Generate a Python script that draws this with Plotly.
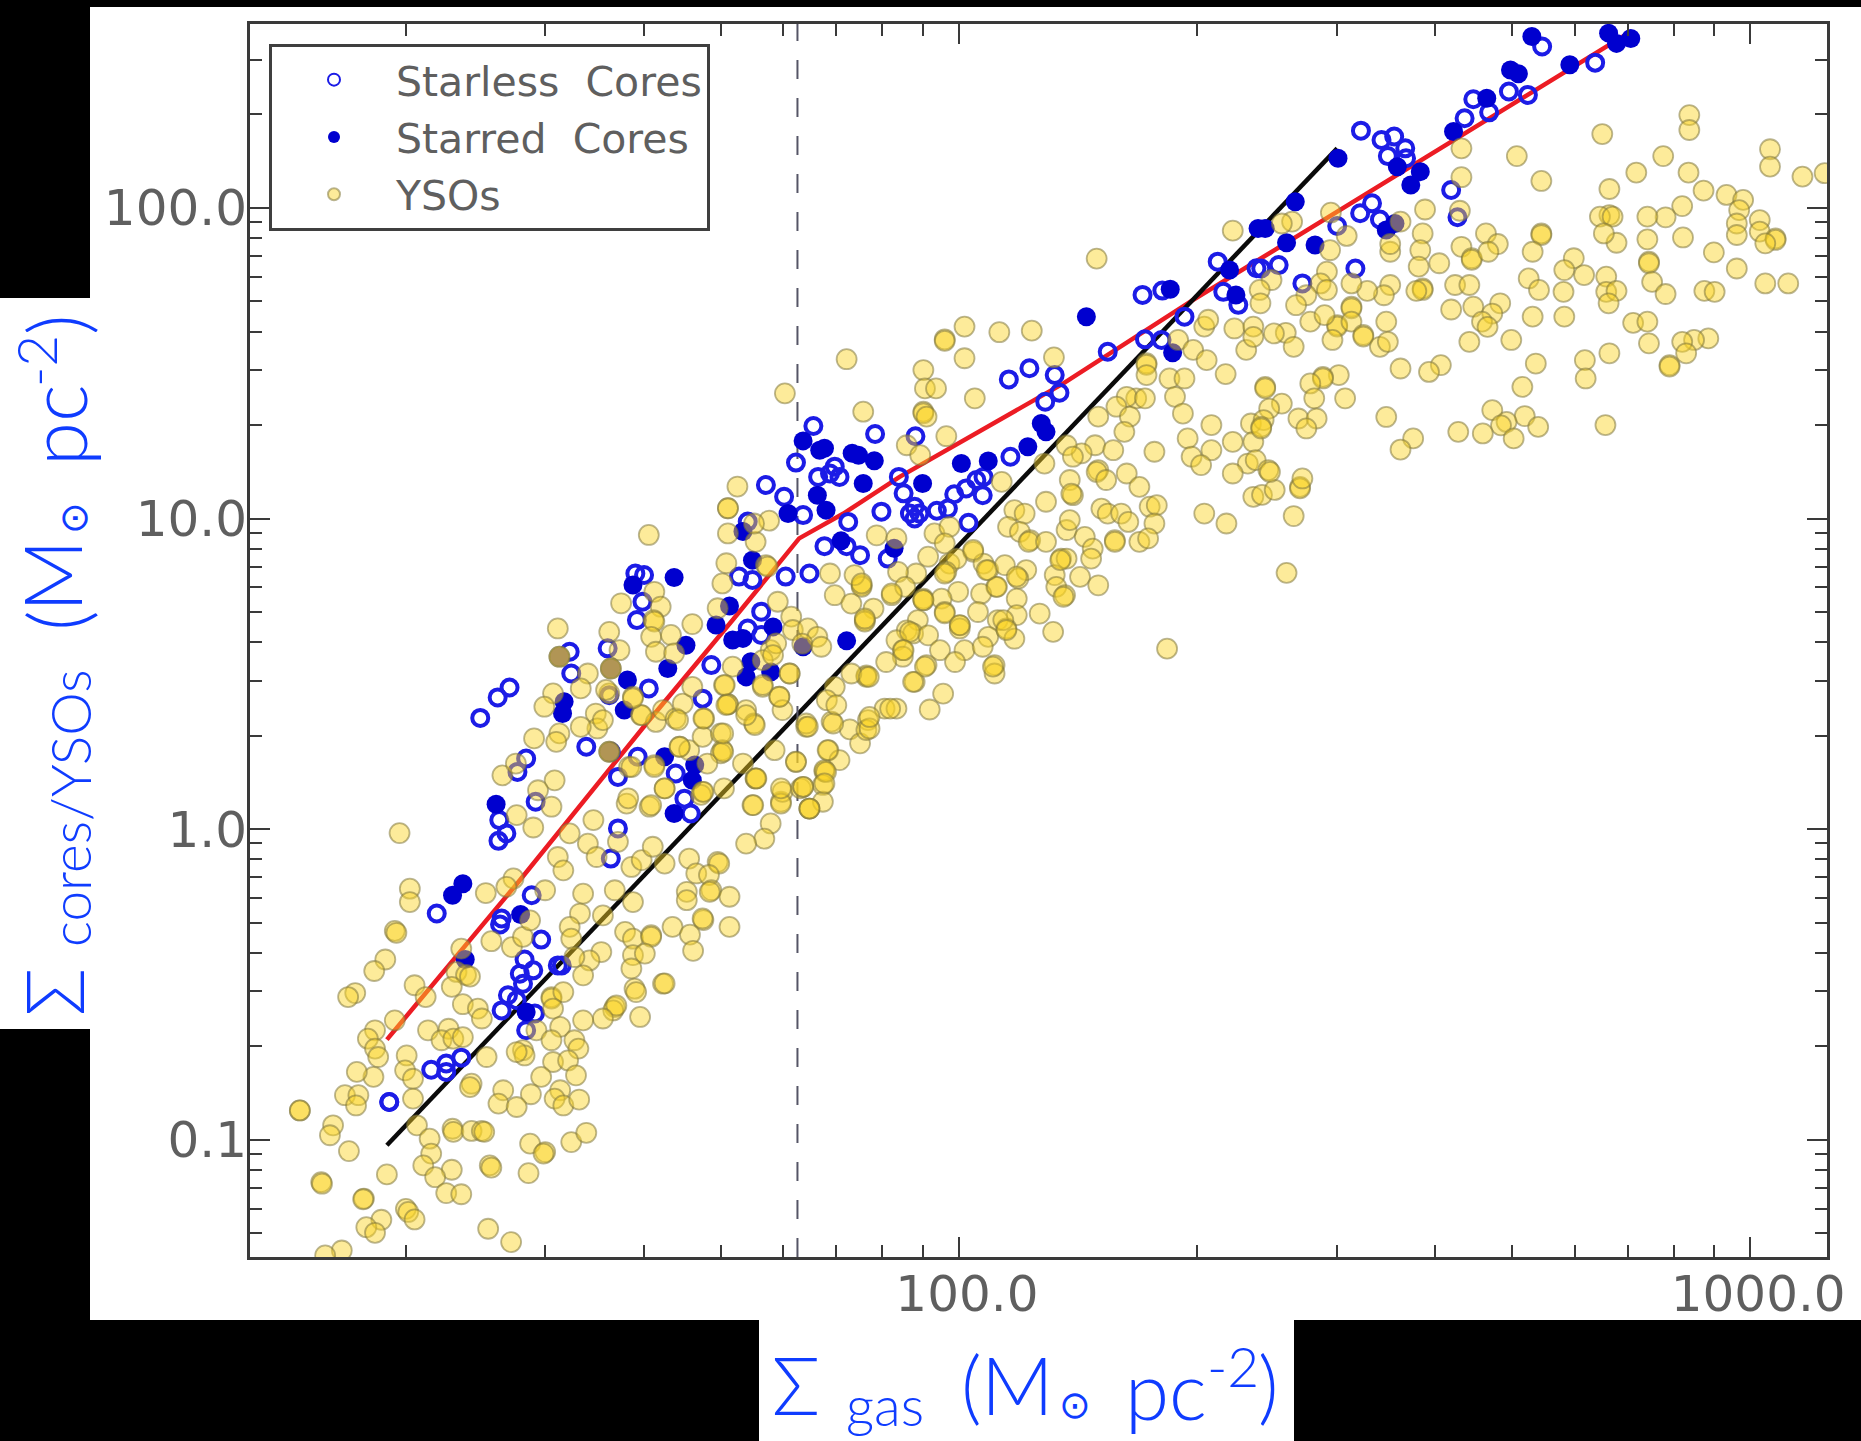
import numpy as np
import plotly.graph_objects as go

W, H = 1861, 1441

yso_log_gas = [
1.293,1.462,1.485,1.441,1.538,1.580,1.609,1.508,1.531,1.569,1.493,1.500,1.542,1.586,1.599,1.613,1.628,
1.306,1.306,1.402,1.437,1.428,1.477,1.525,1.565,1.588,1.550,1.521,1.508,1.510,1.287,1.289,1.409,1.435,1.449,1.458,1.371,1.275,1.261,
1.578,1.588,1.611,1.611,1.588,1.603,1.586,1.548,1.533,1.525,1.514,1.626,1.590,1.592,1.365,1.377,1.382,1.312,1.326,1.359,1.237,1.228,
1.373,1.392,1.397,1.485,1.485,1.500,1.487,1.565,1.563,1.567,1.550,1.525,1.597,1.287,1.262,1.253,1.262,1.266,1.260,1.239,
1.329,1.355,1.346,1.361,1.373,1.302,1.300,1.310,1.403,1.449,1.451,1.441,1.466,1.496,1.485,1.514,1.519,1.487,1.506,1.472,1.516,
1.384,1.382,1.424,1.459,1.418,1.441,1.496,1.489,1.500,1.520,1.224,1.241,1.238,1.310,1.167,1.167,1.209,1.205,1.229,
1.315,1.360,1.361,1.384,1.397,1.400,1.331,1.333,1.323,1.359,1.338,1.352,1.371,1.407,1.409,1.458,1.477,1.475,1.510,1.529,1.456,1.277,
1.194,1.195,1.248,1.247,1.301,1.304,1.312,1.270,1.251,1.262,1.405,1.434,1.220,1.199,
1.608,1.720,1.708,1.708,1.760,1.708,1.743,1.706,1.701,1.756,1.758,1.741,1.573,1.615,1.623,1.614,1.615,1.611,1.617,1.636,1.640,1.663,1.695,
1.771,1.788,1.790,1.809,1.821,1.493,1.558,1.571,1.495,1.495,1.560,1.560,1.531,1.522,1.487,1.476,1.558,1.588,1.541,1.543,1.522,1.598,1.617,1.626,
1.642,1.651,1.663,1.678,1.703,1.708,1.708,1.714,1.731,1.741,1.752,1.773,1.777,1.807,1.762,1.786,1.769,1.802,1.752,1.463,1.495,1.491,
1.647,1.659,1.676,1.699,1.701,1.699,1.682,1.558,1.558,1.583,1.615,1.743,1.743,1.767,1.727,1.794,1.423,1.440,1.489,1.468,
1.628,1.676,1.674,1.703,1.739,1.775,1.777,1.800,1.811,1.762,1.754,1.731,1.659,1.695,1.697,1.668,1.684,
1.839,1.862,1.875,1.885,1.883,1.887,1.835,1.849,1.830,1.830,1.828,1.828,1.811,1.803,1.807,
1.687,1.685,1.656,1.656,1.710,1.677,1.676,1.638,1.710,1.660,1.664,1.628,
1.858,1.780,1.879,1.982,1.982,2.007,2.051,2.092,2.007,1.955,1.957,1.971,2.020,1.955,1.955,1.959,1.984,1.934,1.951,2.120,2.237,2.237,2.237,
2.266,2.285,2.277,2.296,2.313,2.310,2.315,2.348,2.372,2.363,2.372,2.337,2.273,2.283,2.319,2.224,2.212,2.235,2.176,2.199,2.216,2.209,2.172,2.195,2.155,2.136,2.144,
2.247,2.289,2.294,2.319,2.306,2.346,2.369,2.372,2.365,2.346,2.375,2.108,2.176,2.174,2.186,2.212,2.228,2.140,2.144,2.142,2.110,2.054,2.241,2.250,2.180,2.188,2.205,2.214,2.247,2.310,2.338,
2.070,2.083,2.062,2.077,2.090,2.088,2.110,2.136,2.140,2.159,2.169,2.197,2.197,2.228,2.239,2.129,2.136,2.167,2.121,2.153,2.176,2.123,2.134,2.102,2.119,2.263,
1.969,1.988,1.982,1.896,1.921,1.961,2.018,1.988,1.997,2.031,2.037,2.058,2.085,2.075,2.047,2.028,1.999,1.984,1.946,1.923,1.877,1.877,1.868,1.843,1.837,1.915,1.932,1.955,1.955,1.978,2.073,
1.864,1.892,1.881,1.881,2.024,1.982,2.073,2.049,2.001,2.001,2.060,1.948,1.934,1.942,1.961,1.921,2.070,2.037,1.976,2.007,2.030,1.929,1.929,1.908,1.959,1.995,2.045,2.045,
1.883,1.883,1.864,1.944,1.843,1.833,1.845,1.980,1.906,1.921,1.887,1.963,2.372,2.174,2.346,
2.383,2.399,2.391,2.393,2.431,2.431,2.423,2.414,
2.923,2.923,2.813,2.705,2.635,2.890,2.635,2.736,2.922,2.856,2.822,2.941,3.025,3.025,3.066,3.094,2.970,2.991,2.986,2.914,2.893,2.870,2.822,2.810,2.826,2.589,2.633,2.470,2.421,2.408,
2.983,2.983,3.012,3.012,3.032,3.032,3.019,2.915,2.870,2.831,2.815,2.736,2.736,2.725,2.666,2.681,2.635,2.648,2.648,2.669,2.586,2.583,2.581,2.607,2.558,2.490,2.469,2.545,2.545,
2.954,2.983,2.872,2.872,2.777,2.765,2.790,2.818,2.720,2.733,2.764,2.876,2.893,3.019,3.048,2.942,2.955,2.818,2.831,2.821,2.627,2.645,2.586,2.586,2.578,2.545,2.537,2.516,
2.465,2.457,2.439,2.465,2.395,2.380,2.496,2.381,2.496,2.496,2.426,2.622,2.650,2.684,2.674,2.725,2.765,2.661,2.668,2.540,2.478,2.478,2.444,2.462,2.496,2.511,2.511,2.413,2.398,
2.423,2.472,2.532,2.542,2.645,2.698,2.852,2.870,2.872,2.947,2.929,2.914,2.919,2.898,2.898,2.822,2.791,2.792,2.729,2.712,2.558,2.609,2.594,2.480,2.460,2.460,2.444,2.488,2.449,
2.387,2.387,2.408,2.392,2.429,2.452,2.439,2.385,2.382,2.382,2.540,2.674,2.715,2.692,2.685,2.732,2.631,2.662,2.701,2.817,2.574,2.558,2.434,
]
yso_log_sigma = [
-0.013,0.005,0.072,0.045,0.029,0.082,0.072,-0.014,-0.047,-0.041,-0.090,-0.133,-0.090,-0.122,-0.100,-0.057,-0.111,
-0.192,-0.235,-0.206,-0.159,-0.186,-0.197,-0.208,-0.197,-0.235,-0.278,-0.272,-0.315,-0.353,-0.328,-0.334,-0.361,-0.380,-0.347,-0.294,-0.385,-0.420,-0.457,
-0.331,-0.353,-0.342,-0.347,-0.406,-0.401,-0.449,-0.396,-0.423,-0.471,-0.412,-0.498,-0.514,-0.525,-0.460,-0.470,-0.475,-0.503,-0.541,-0.508,-0.528,-0.541,
-0.564,-0.578,-0.610,-0.541,-0.546,-0.525,-0.578,-0.573,-0.584,-0.568,-0.610,-0.616,-0.605,-0.616,-0.648,-0.675,-0.707,-0.734,-0.798,-0.782,
-0.648,-0.643,-0.680,-0.675,-0.670,-0.729,-0.777,-0.804,-0.734,-0.712,-0.729,-0.718,-0.648,-0.637,-0.680,-0.680,-0.707,-0.750,-0.745,-0.798,-0.793,
-0.820,-0.831,-0.841,-0.854,-0.884,-0.895,-0.841,-0.868,-0.890,-0.871,-0.857,-0.857,-0.890,-0.868,-0.906,-0.906,-0.954,-0.986,-1.037,
-0.954,-0.965,-0.975,-0.972,-0.972,-0.975,-0.997,-1.045,-1.083,-1.097,-1.121,-1.172,-1.176,-1.083,-1.090,-1.013,-1.040,-1.045,-1.008,-0.978,-1.108,-1.112,
-1.137,-1.142,-1.190,-1.192,-1.223,-1.233,-1.257,-1.258,-1.282,-1.300,-1.287,-1.330,-1.357,-1.373,
0.947,1.103,1.033,1.033,0.993,0.952,0.925,0.856,0.791,0.850,0.845,0.984,0.727,0.764,0.716,0.673,0.668,0.619,0.571,0.625,0.566,0.660,0.711,
0.732,0.684,0.641,0.646,0.619,0.646,0.635,0.576,0.555,0.555,0.517,0.517,0.501,0.453,0.437,0.394,0.437,0.426,0.372,0.324,0.329,0.367,0.345,0.383,
0.356,0.404,0.458,0.356,0.463,0.402,0.402,0.523,0.383,0.340,0.458,0.426,0.383,0.329,0.576,0.501,0.598,0.597,0.544,0.292,0.308,0.281,
0.265,0.254,0.297,0.308,0.254,0.244,0.211,0.249,0.249,0.200,0.206,0.163,0.163,0.254,0.211,0.216,0.173,0.211,0.157,0.125,
0.131,0.120,0.110,0.131,0.077,0.088,0.120,0.131,0.066,0.018,-0.031,-0.047,-0.095,-0.106,-0.111,-0.143,-0.148,
0.346,0.321,0.276,0.351,0.319,0.324,0.254,0.222,0.185,0.190,0.142,0.088,0.066,0.136,0.340,
-0.197,-0.202,-0.202,-0.229,-0.218,-0.293,-0.288,-0.315,-0.315,-0.340,-0.392,-0.497,
1.513,1.403,1.344,1.577,1.572,1.618,1.600,1.605,1.516,1.478,1.419,1.419,1.387,1.344,1.339,1.328,1.265,1.236,1.204,1.519,1.500,1.495,1.462,
1.451,1.451,1.575,1.543,1.510,1.618,1.640,1.612,1.618,1.543,1.585,1.465,1.392,1.338,1.301,1.387,1.392,1.387,1.328,1.360,1.328,1.279,1.236,1.220,1.210,1.236,1.199,
1.215,1.258,1.199,1.220,1.172,1.247,1.306,1.247,1.177,1.145,1.188,1.177,1.156,1.150,1.124,1.145,1.102,1.124,1.075,1.080,1.054,1.118,1.038,1.043,1.032,1.016,1.016,0.989,0.984,1.016,0.984,
1.027,1.016,0.973,0.957,0.930,0.925,0.925,0.963,0.995,0.941,0.903,0.930,0.925,0.925,0.936,0.871,0.871,0.871,0.818,0.812,0.785,0.780,0.753,0.694,0.635,0.581,
0.952,0.973,0.920,0.946,0.936,0.877,0.893,0.855,0.871,0.855,0.834,0.850,0.834,0.807,0.780,0.758,0.764,0.828,0.823,0.828,0.785,0.780,0.818,0.753,0.823,0.753,0.780,0.742,0.737,0.742,0.742,
0.726,0.710,0.673,0.668,0.699,0.699,0.689,0.673,0.656,0.646,0.646,0.673,0.640,0.630,0.624,0.608,0.613,0.619,0.576,0.576,0.587,0.576,0.555,0.538,0.528,0.538,0.528,0.501,
0.495,0.490,0.501,0.474,0.458,0.415,0.399,0.436,0.388,0.388,0.361,0.385,1.070,1.837,1.927,
1.076,1.092,1.156,1.150,1.102,1.097,1.008,0.825,
2.299,2.251,2.238,2.167,2.192,2.167,2.099,2.087,2.114,2.114,2.061,2.056,2.189,2.133,2.101,2.112,2.042,2.026,1.993,2.006,1.970,1.972,1.977,1.972,1.972,1.995,1.991,1.985,1.956,1.950,
1.950,1.913,1.961,1.924,1.902,1.897,1.886,1.905,1.899,1.888,1.918,1.918,1.913,1.859,1.918,1.884,1.875,1.838,1.833,1.859,1.918,1.864,1.811,1.822,1.956,1.910,1.864,1.859,1.884,
1.857,1.805,1.827,1.822,1.838,1.800,1.784,1.779,1.773,1.736,1.730,1.762,1.723,1.757,1.757,1.733,1.730,1.730,1.733,1.693,1.752,1.752,1.741,1.736,1.733,1.752,1.719,1.733,
1.795,1.757,1.719,1.736,1.768,1.736,1.757,1.693,1.682,1.677,1.687,1.673,1.682,1.693,1.660,1.650,1.650,1.634,1.617,1.634,1.623,1.618,1.634,1.655,1.634,1.591,1.586,1.598,1.596,
1.553,1.575,1.553,1.569,1.569,1.575,1.630,1.634,1.564,1.580,1.575,1.569,1.532,1.494,1.489,1.532,1.510,1.451,1.499,1.424,1.483,1.494,1.472,1.462,1.456,1.451,1.435,1.387,1.387,
1.424,1.419,1.370,1.354,1.322,1.322,1.290,1.317,1.295,1.290,1.327,1.349,1.330,1.311,1.300,1.295,1.279,1.274,1.258,1.301,1.258,1.222,1.129,
]
# further YSOs read from the two densest clumps
yso_dense_log_gas = [
1.706,1.704,1.702,1.702,1.647,1.677,1.645,1.599,1.742,1.731,1.773,1.752,1.582,1.628,1.677,1.744,1.740,1.775,1.775,1.832,1.830,1.794,1.803,1.811,
1.765,1.786,1.826,1.841,1.834,1.809,1.550,1.554,1.588,1.586,1.615,1.611,
1.881,1.877,1.915,1.955,1.938,1.930,1.982,2.001,2.048,2.073,2.035,1.982,2.056,2.060,1.957,1.942,2.043,1.886,1.913,2.128,2.132,2.018,
]
yso_dense_log_sigma = [
0.399,0.464,0.249,0.308,0.265,0.356,0.351,0.367,0.335,0.367,0.426,0.464,0.099,0.131,0.120,0.163,0.077,0.082,0.131,0.184,0.147,0.217,0.136,0.066,
0.560,0.501,0.587,0.340,0.254,0.330,0.351,0.448,0.421,0.200,0.200,0.077,
0.678,0.791,0.759,0.737,0.635,0.576,0.695,0.657,0.780,0.813,0.834,0.823,0.673,0.641,0.523,0.474,0.523,0.490,0.388,0.866,0.748,0.899,
]

starless_log_gas = [
1.340,1.460,1.422,1.420,1.472,1.451,1.462,1.445,1.449,1.493,1.498,1.430,1.441,1.422,1.464,1.453,1.333,1.352,1.352,1.371,1.280,1.280,
1.756,1.779,1.803,1.733,1.722,1.739,1.781,1.811,1.591,1.602,1.600,1.593,1.750,1.733,1.750,1.687,1.508,1.510,1.556,1.608,1.676,1.558,1.529,1.594,1.560,1.569,1.642,1.653,1.661,
1.453,1.442,1.465,1.569,1.560,1.395,1.417,1.432,1.419,1.428,1.418,
1.816,1.794,1.894,1.945,1.822,1.843,1.849,1.837,1.924,1.930,1.902,1.860,1.830,1.858,1.875,1.910,1.944,1.938,1.950,1.944,1.972,1.986,1.994,2.009,2.022,2.031,2.030,2.012,2.065,2.063,2.089,2.121,2.127,2.109,2.188,2.235,2.256,2.285,2.353,
2.232,2.257,2.327,2.334,2.376,
2.508,2.534,2.550,2.542,2.564,2.565,2.650,2.639,2.670,2.695,2.719,2.737,2.804,2.622,2.630,2.522,2.507,2.532,2.478,2.501,2.382,2.404,2.434,
]
starless_log_sigma = [
-0.272,-0.213,-0.288,-0.307,-0.356,-0.420,-0.455,-0.466,-0.498,-0.439,-0.439,-0.535,-0.551,-0.584,-0.594,-0.648,-0.775,-0.755,-0.782,-0.736,-0.879,-0.879,
1.108,1.070,1.011,0.990,0.813,0.802,0.813,0.823,0.823,0.818,0.732,0.673,0.700,0.646,0.625,0.528,0.571,0.501,0.582,0.453,0.420,0.431,0.265,0.233,0.249,0.168,0.179,0.098,0.050,
0.227,0.184,0.088,0.002,-0.095,0.358,0.424,0.456,0.029,-0.014,-0.038,
1.298,1.180,1.272,1.265,1.134,1.167,1.134,1.145,1.134,1.081,1.022,0.989,0.911,0.911,0.882,0.871,1.038,1.016,1.016,1.000,1.025,1.032,1.078,1.097,1.124,1.134,1.075,0.986,1.199,1.448,1.484,1.462,1.405,1.376,1.537,1.577,1.575,1.650,1.688,
1.720,1.734,1.827,1.730,1.806,
2.249,2.219,2.230,2.167,2.192,2.160,2.350,2.289,2.308,2.375,2.364,2.520,2.468,2.058,1.970,2.015,1.983,1.963,1.942,1.805,1.805,1.816,1.757,
]

starred_log_gas = [
1.415,1.360,1.373,1.446,1.376,1.453,
1.588,1.640,1.727,1.739,1.710,1.693,1.714,1.727,1.765,1.655,1.632,1.581,1.501,1.499,1.731,1.737,1.762,1.577,1.628,1.666,1.640,1.558,1.495,1.560,1.663,
1.803,1.824,1.830,1.865,1.873,1.893,1.879,1.821,1.832,1.784,1.851,1.918,1.954,2.003,2.037,2.087,2.110,2.104,2.161,2.270,1.858,1.803,
2.267,2.342,2.350,2.378,
2.479,2.425,2.387,2.414,2.450,2.540,2.551,2.554,2.583,2.571,2.625,2.667,2.697,2.707,2.772,2.724,2.821,2.849,2.831,
]
starred_log_sigma = [
0.080,-0.213,-0.176,-0.275,-0.420,-0.589,
0.786,0.810,0.958,0.866,0.718,0.657,0.609,0.614,0.651,0.592,0.517,0.480,0.410,0.372,0.490,0.539,0.506,0.383,0.233,0.206,0.050,0.249,0.555,0.517,0.157,
1.250,1.220,1.226,1.210,1.204,1.186,1.113,1.075,1.027,1.016,0.928,0.904,1.113,1.177,1.185,1.231,1.279,1.306,1.650,1.534,0.606,0.587,
1.738,1.800,1.720,1.934,
2.160,2.020,1.934,1.888,1.881,1.929,1.950,2.133,2.117,2.074,2.246,2.353,2.444,2.432,2.461,2.552,2.563,2.546,2.530,
]

red_log_gas = [1.277,1.445,1.605,1.714,1.798,1.854,1.925,2.132,2.296,2.849]
red_log_sigma = [-0.678,-0.165,0.340,0.673,0.936,1.016,1.134,1.435,1.704,2.568]
black_log_gas = [1.277,2.478]
black_log_sigma = [-1.018,2.192]
threshold_gas = 62.5

series_names = ["Starless\u00a0\u00a0Cores", "Starred\u00a0\u00a0Cores", "YSOs"]
x_tick_values = [100, 1000]
x_tick_labels = ["\u00a0100.0", "\u00a01000.0"]
y_tick_values = [0.1, 1, 10, 100]
y_tick_labels = ["0.1", "1.0", "10.0", "100.0"]
x_minor_values = [20, 30, 40, 50, 60, 70, 80, 90, 200, 300, 400, 500, 600, 700, 800, 900]
y_minor_values = [0.05, 0.06, 0.07, 0.08, 0.09, 0.2, 0.3, 0.4, 0.5, 0.6, 0.7, 0.8, 0.9,
                  2, 3, 4, 5, 6, 7, 8, 9, 20, 30, 40, 50, 60, 70, 80, 90, 200, 300]

X_RANGE = [1.104, 3.097]
Y_RANGE = [-1.378, 2.594]
BLUE_TEXT = "#0f3cff"
AXIS = "#3a3a3a"
GREY = "#5f5f5f"
BODY = "Lato Light, Lato, Noto Sans"


def dex(a):
    return np.power(10.0, np.array(a))


def fx(px):
    return px / W


def fy(py):
    return 1 - py / H


fig = go.Figure()
fig.add_trace(go.Scatter(x=dex(red_log_gas), y=dex(red_log_sigma), mode="lines",
                         line=dict(color="#ec1c24", width=4.5), showlegend=False))
fig.add_trace(go.Scatter(x=dex(black_log_gas), y=dex(black_log_sigma), mode="lines",
                         line=dict(color="#0a0a0a", width=4.5), showlegend=False))
fig.add_trace(go.Scatter(x=[threshold_gas, threshold_gas], y=[10 ** Y_RANGE[0], 10 ** Y_RANGE[1]], mode="lines",
                         line=dict(color="#555566", width=2, dash="19px,19px"), showlegend=False))
fig.add_trace(go.Scatter(x=dex(starless_log_gas), y=dex(starless_log_sigma), mode="markers", name=series_names[0],
                         legendgroup="a", legendrank=1,
                         marker=dict(symbol="circle-open", size=16, color="#1c1ce6", line=dict(width=4, color="#1c1ce6"))))
fig.add_trace(go.Scatter(x=dex(starred_log_gas), y=dex(starred_log_sigma), mode="markers", name=series_names[1],
                         legendgroup="b", legendrank=2,
                         marker=dict(symbol="circle", size=19, color="#0000cf", line=dict(width=0))))
fig.add_trace(go.Scatter(x=dex(yso_log_gas + yso_dense_log_gas), y=dex(yso_log_sigma + yso_dense_log_sigma),
                         mode="markers", name=series_names[2],
                         legendgroup="c", legendrank=3,
                         marker=dict(symbol="circle", size=20, color="rgba(250,212,35,0.46)",
                                     line=dict(width=1.8, color="rgba(130,120,60,0.55)"))))

black_boxes = [
    (0, 0, W, 7),
    (0, 0, 90, 298),
    (0, 1029, 90, H),
    (0, 1320, 759, H),
    (1294, 1320, W, H),
]
shapes = [dict(type="rect", xref="paper", yref="paper", x0=fx(a), x1=fx(c), y0=fy(d), y1=fy(b),
               fillcolor="black", line=dict(width=0), layer="below") for a, b, c, d in black_boxes]

annotations = []


def label(text, px, py, size, angle=0, family=BODY):
    annotations.append(dict(text=text, x=fx(px), y=fy(py), xref="paper", yref="paper", showarrow=False,
                            xanchor="center", yanchor="middle", textangle=angle,
                            font=dict(size=size, color=BLUE_TEXT, family=family)))


# x axis title
label("Σ", 796, 1384, 80)
label("gas", 885, 1405, 55)
label("(", 971, 1384, 80)
label("M", 1018, 1384, 80)
label("⊙", 1075, 1405, 38, family="DejaVu Sans")
label("pc", 1166, 1389, 80)
label("-2", 1233, 1366, 55)
label(")", 1268, 1384, 80)
# y axis title
label("Σ", 53, 992, 80, -90)
label("cores/YSOs", 70, 808, 55, -90)
label("(", 56, 621, 80, -90)
label("M", 51, 576, 80, -90)
label("⊙", 74, 518, 38, -90, family="DejaVu Sans")
label("pc", 56, 425, 80, -90)
label("-2", 36, 361, 55, -90)
label(")", 56, 325, 80, -90)

axis_common = dict(type="log", showgrid=False, zeroline=False, showline=True, linecolor=AXIS, linewidth=3,
                   mirror="ticks", ticks="inside", ticklen=20, tickwidth=1.5, tickcolor=AXIS,
                   tickfont=dict(size=50, color=GREY, family="DejaVu Sans"))

fig.update_layout(
    width=W, height=H, autosize=False,
    margin=dict(l=0, r=0, t=0, b=0, autoexpand=False),
    paper_bgcolor="white", plot_bgcolor="white",
    shapes=shapes, annotations=annotations,
    xaxis=dict(range=X_RANGE, domain=[fx(250), fx(1827)], tickmode="array", tickvals=x_tick_values,
               ticktext=x_tick_labels, tickangle=0, anchor="y", ticklabelstandoff=-9,
               minor=dict(tickmode="array", tickvals=x_minor_values, ticks="inside", ticklen=12, tickwidth=1.5,
                          tickcolor=AXIS, showgrid=False),
               **axis_common),
    yaxis=dict(range=Y_RANGE, domain=[fy(1257), fy(23.5)], tickmode="array", tickvals=y_tick_values,
               ticktext=y_tick_labels, anchor="x", ticklabelstandoff=-10,
               minor=dict(tickmode="array", tickvals=y_minor_values, ticks="inside", ticklen=12, tickwidth=1.5,
                          tickcolor=AXIS, showgrid=False),
               **axis_common),
    legend=dict(x=fx(269), y=fy(43.5), xanchor="left", yanchor="top", bgcolor="white",
                bordercolor="#3f3f3f", borderwidth=3, font=dict(size=41, color=GREY, family="DejaVu Sans"),
                itemwidth=114, tracegroupgap=1, itemsizing="constant"),
)

fig.write_html("out.html", config=dict(displayModeBar=False),
               post_script="document.body.style.margin='0';document.body.style.overflow='hidden';")
